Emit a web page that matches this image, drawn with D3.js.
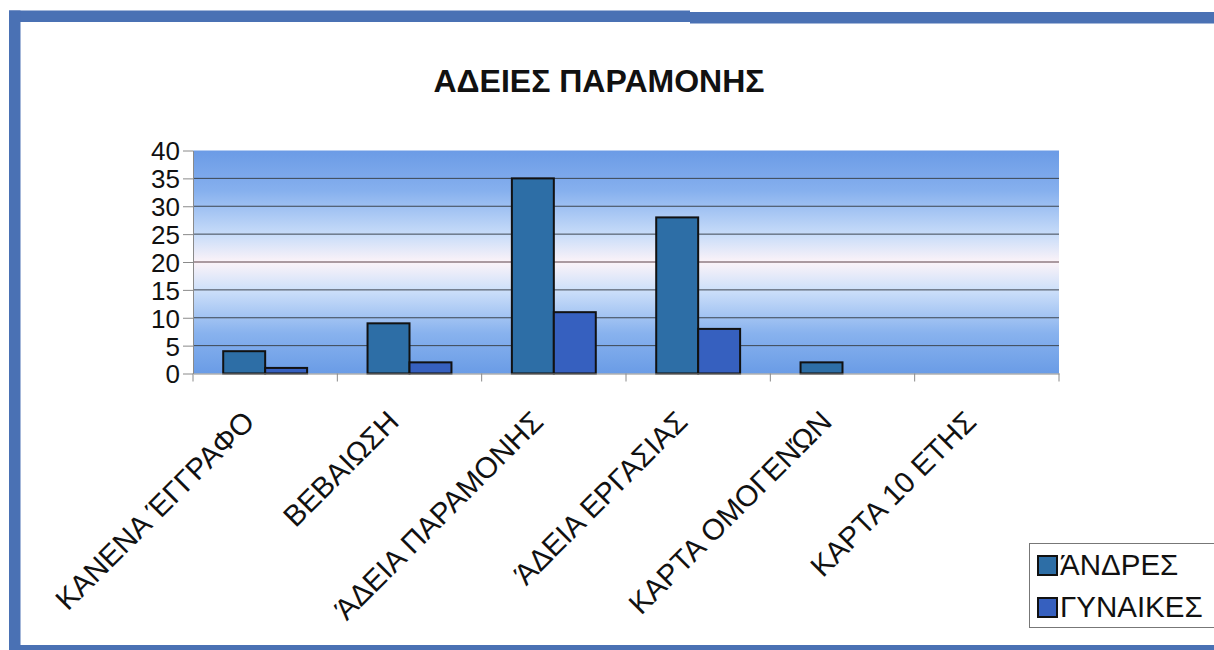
<!DOCTYPE html>
<html>
<head>
<meta charset="utf-8">
<script src="https://cdn.jsdelivr.net/npm/d3@7"></script>
<style>
  body { margin: 0; background: #fff; }
  text { font-family: "Liberation Sans", Arial, sans-serif; fill: #111; }
</style>
</head>
<body>
<div id="my_dataviz"></div>
<script>
  const categories = ["ΚΑΝΕΝΑ ΈΓΓΡΑΦΟ", "ΒΕΒΑΙΩΣΗ", "ΆΔΕΙΑ ΠΑΡΑΜΟΝΗΣ", "ΆΔΕΙΑ ΕΡΓΑΣΙΑΣ", "ΚΑΡΤΑ ΟΜΟΓΕΝΏΝ", "ΚΑΡΤΑ 10 ΕΤΗΣ"];
  const seriesNames = ["ΆΝΔΡΕΣ", "ΓΥΝΑΙΚΕΣ"];
  const men = [4, 9, 35, 28, 2, 0];
  const women = [1, 2, 11, 8, 0, 0];
  const yTicks = [0, 5, 10, 15, 20, 25, 30, 35, 40];
  const title = "ΑΔΕΙΕΣ ΠΑΡΑΜΟΝΗΣ";

  const W = 1214, H = 650;
  const margin = {
      top: 150.5,
      right: 155,
      bottom: 276.5,
      left: 193
    },
    width = W - margin.left - margin.right,
    height = H - margin.top - margin.bottom;

  const colors = ["#2d6ea6", "#3660bf"];

  const root = d3.select("#my_dataviz")
    .append("svg")
    .attr("width", W)
    .attr("height", H);

  // frame of the scanned page
  const frame = root.append("g").attr("fill", "#4a71b4");
  frame.append("rect").attr("x", 9).attr("y", 10.5).attr("width", 681).attr("height", 11.5);
  frame.append("rect").attr("x", 690).attr("y", 12).attr("width", 524).attr("height", 11.5);
  frame.append("rect").attr("x", 9).attr("y", 10.5).attr("width", 11.5).attr("height", 640);
  frame.append("rect").attr("x", 9).attr("y", 645).attr("width", 1205).attr("height", 5);

  root.append("text")
    .attr("x", 599)
    .attr("y", 92)
    .attr("text-anchor", "middle")
    .style("font-size", "32px")
    .style("font-weight", "bold")
    .text(title);

  const defs = root.append("defs");
  const grad = defs.append("linearGradient")
    .attr("id", "bg")
    .attr("x1", 0).attr("y1", 0).attr("x2", 0).attr("y2", 1);
  [[0, "#6b9be6"], [0.18, "#86b0ee"], [0.38, "#c9ddf9"], [0.5, "#fcf3f8"],
   [0.62, "#cfe1fa"], [0.82, "#88b2ee"], [1, "#6a9ce6"]].forEach(s => {
    grad.append("stop").attr("offset", s[0]).attr("stop-color", s[1]);
  });

  const svg = root.append("g")
    .attr("transform", `translate(${margin.left},${margin.top})`);

  const x0 = d3.scaleBand()
    .domain(categories)
    .range([0, width])
    .padding(0);

  const x1 = d3.scaleBand()
    .domain(seriesNames)
    .range([0, x0.bandwidth()])
    .paddingOuter(0.72)
    .paddingInner(0);

  const y = d3.scaleLinear()
    .domain([0, 40])
    .range([height, 0]);

  svg.append("rect")
    .attr("width", width)
    .attr("height", height)
    .attr("fill", "url(#bg)");

  // gridlines
  svg.append("g")
    .selectAll("line")
    .data(yTicks.filter(t => t > 0 && t < 40))
    .enter()
    .append("line")
    .attr("x1", 0)
    .attr("x2", width)
    .attr("y1", d => y(d))
    .attr("y2", d => y(d))
    .attr("stroke", d => d === 20 ? "#5a4048" : "#3d4650")
    .attr("stroke-width", 1);

  const data = categories.map((c, i) => ({
    cat: c,
    values: [{ key: seriesNames[0], value: men[i] }, { key: seriesNames[1], value: women[i] }]
  }));

  svg.append("g")
    .selectAll("g")
    .data(data)
    .enter()
    .append("g")
    .attr("transform", d => `translate(${x0(d.cat)},0)`)
    .selectAll("rect")
    .data(d => d.values.filter(v => v.value > 0))
    .enter()
    .append("rect")
    .attr("x", d => x1(d.key))
    .attr("y", d => y(d.value))
    .attr("width", x1.bandwidth())
    .attr("height", d => height - y(d.value))
    .attr("fill", d => colors[seriesNames.indexOf(d.key)])
    .attr("stroke", "#111")
    .attr("stroke-width", 2);

  // y axis
  const yAxis = svg.append("g")
    .call(d3.axisLeft(y).tickValues(yTicks).tickSize(10).tickPadding(3).tickSizeOuter(0));
  yAxis.select(".domain").attr("stroke", "#8a8a8a");
  yAxis.selectAll(".tick line").attr("stroke", "#8a8a8a");
  yAxis.selectAll(".tick text")
    .style("font-size", "26px")
    .style("font-family", "Liberation Sans, Arial, sans-serif")
    .attr("fill", "#111")
    .attr("dy", "0.36em");

  // x axis line and category ticks
  const xAxis = svg.append("g")
    .attr("transform", `translate(0, ${height})`)
    .call(d3.axisBottom(x0).tickSize(0).tickFormat(""));
  xAxis.select(".domain").attr("stroke", "#8a8a8a");

  svg.append("g")
    .selectAll("line")
    .data(categories.concat([null]))
    .enter()
    .append("line")
    .attr("x1", (d, i) => i * x0.step())
    .attr("x2", (d, i) => i * x0.step())
    .attr("y1", height)
    .attr("y2", height + 8)
    .attr("stroke", "#8a8a8a");

  svg.append("g")
    .selectAll("text")
    .data(categories)
    .enter()
    .append("text")
    .attr("transform", d => `translate(${x0(d) + x0.bandwidth() / 2 - 9},${height + 50}) rotate(-45)`)
    .attr("text-anchor", "end")
    .style("font-size", "29.5px")
    .text(d => d);

  // legend
  const legend = root.append("g");
  legend.append("rect")
    .attr("x", 1029.5)
    .attr("y", 543.5)
    .attr("width", 200)
    .attr("height", 84)
    .attr("fill", "#fff")
    .attr("stroke", "#777")
    .attr("stroke-width", 1);

  const items = legend.selectAll("g")
    .data(seriesNames)
    .enter()
    .append("g")
    .attr("transform", (d, i) => `translate(1038,${556 + i * 42})`);

  items.append("rect")
    .attr("width", 19)
    .attr("height", 19)
    .attr("fill", (d, i) => colors[i])
    .attr("stroke", "#111")
    .attr("stroke-width", 2);

  items.append("text")
    .attr("x", 22)
    .attr("y", 19)
    .style("font-size", "29.5px")
    .text(d => d);
</script>
</body>
</html>
